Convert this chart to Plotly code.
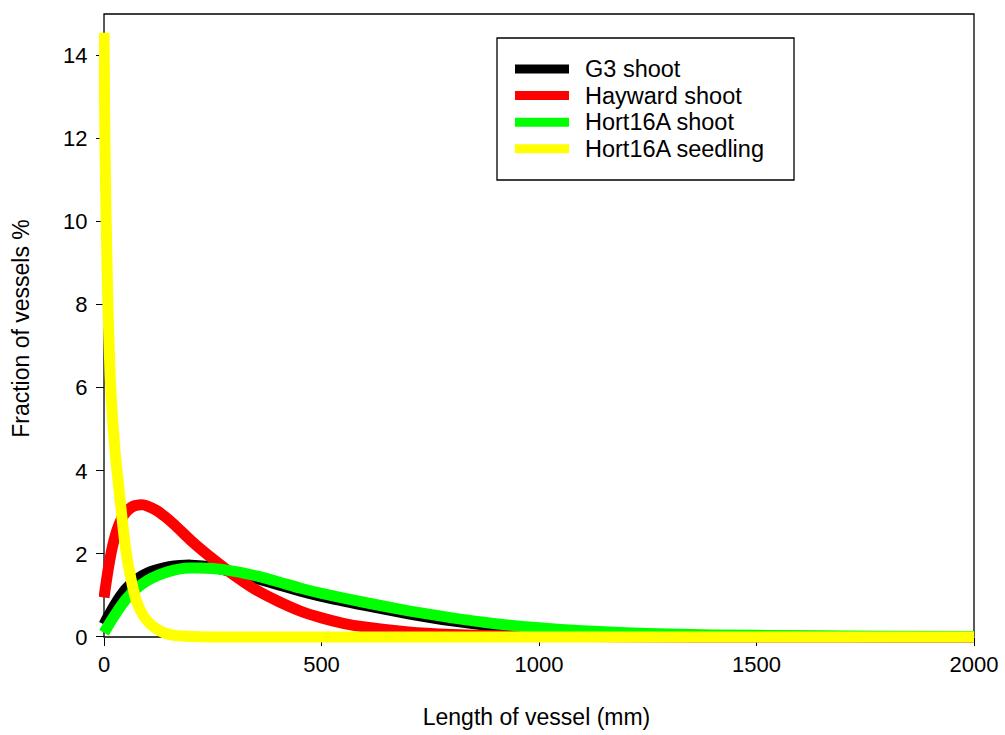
import plotly.graph_objects as go

# Vessel length distributions (length in mm, fraction of vessels in %)
x_g3 = [0, 10, 25, 50, 75, 100, 125, 150, 175, 200, 250, 300, 350, 400, 450, 500,
        600, 700, 800, 900, 1000, 1100, 1200, 1400, 1600, 1800, 2000]
y_g3 = [0.30, 0.50, 0.78, 1.15, 1.39, 1.54, 1.63, 1.69, 1.72, 1.73, 1.68, 1.55, 1.41,
        1.26, 1.11, 0.98, 0.76, 0.56, 0.39, 0.26, 0.17, 0.11, 0.07, 0.03, 0.015, 0.008, 0.005]

x_hayward = [0, 10, 20, 30, 40, 50, 60, 70, 80, 90, 100, 120, 140, 160, 180, 200, 250,
             300, 350, 400, 450, 500, 550, 600, 700, 800, 900, 1000, 1200, 1500, 2000]
y_hayward = [0.95, 1.65, 2.2, 2.58, 2.84, 3.0, 3.1, 3.16, 3.18, 3.18, 3.15, 3.05, 2.9,
             2.72, 2.52, 2.32, 1.88, 1.48, 1.13, 0.86, 0.63, 0.46, 0.33, 0.24, 0.12,
             0.06, 0.03, 0.015, 0.005, 0.0, 0.0]

x_hort_shoot = [0, 10, 25, 50, 75, 100, 125, 150, 175, 200, 250, 300, 350, 400, 450, 500,
                600, 700, 800, 900, 1000, 1100, 1200, 1300, 1400, 1600, 1800, 2000]
y_hort_shoot = [0.10, 0.28, 0.53, 0.90, 1.17, 1.36, 1.49, 1.58, 1.64, 1.66, 1.65, 1.58,
                1.47, 1.33, 1.18, 1.05, 0.83, 0.63, 0.46, 0.32, 0.22, 0.15, 0.10, 0.07,
                0.05, 0.03, 0.02, 0.012]

x_hort_seedling = [0, 2, 5, 9, 14, 20, 26, 32, 40, 50, 62, 75, 90, 105, 120, 140, 170,
                   220, 300, 500, 1000, 1500, 2000]
y_hort_seedling = [14.55, 12.0, 10.0, 8.0, 6.3, 5.2, 4.4, 3.8, 3.0, 2.1, 1.4, 0.85, 0.52,
                   0.33, 0.2, 0.09, 0.03, 0.005, 0.0, 0.0, 0.0, 0.0, 0.0]

series_names = ["G3 shoot", "Hayward shoot", "Hort16A shoot", "Hort16A seedling"]
series_colors = ["#000000", "#FF0000", "#00FF00", "#FFFF00"]
series_x = [x_g3, x_hayward, x_hort_shoot, x_hort_seedling]
series_y = [y_g3, y_hayward, y_hort_shoot, y_hort_seedling]

x_ticks = [0, 500, 1000, 1500, 2000]
y_ticks = [0, 2, 4, 6, 8, 10, 12, 14]

FONT = "Liberation Sans, Arial, sans-serif"
W, H = 1005, 735
M_L, M_R, M_T, M_B = 99, 31, 14, 92

# Axis ranges are padded slightly below 0 so the thick curves are not cut at the axes
X_MIN, X_MAX = -11.5, 2000
Y_MIN, Y_MAX = -0.145, 15
x0_paper = (0 - X_MIN) / (X_MAX - X_MIN)
y0_paper = (0 - Y_MIN) / (Y_MAX - Y_MIN)


def px_to_paper(px, py):
    """Pixel position on the page -> paper coordinates of the plot area."""
    pw = W - M_L - M_R
    ph = H - M_T - M_B
    return (px - M_L) / pw, (H - M_B - py) / ph


fig = go.Figure()
for name, color, xs, ys in zip(series_names, series_colors, series_x, series_y):
    fig.add_trace(go.Scatter(
        x=xs, y=ys, mode="lines", name=name, showlegend=False,
        line=dict(color=color, width=11, shape="spline", smoothing=0.6),
    ))

axis_common = dict(
    showgrid=False, zeroline=False, showline=False, automargin=False,
    ticks="outside", ticklen=8, tickwidth=1.3, tickcolor="#000000",
    tickfont=dict(family=FONT, size=22, color="#000000"),
    anchor="free", layer="below traces",
)

shapes = [dict(type="rect", xref="paper", yref="paper",
               x0=x0_paper, y0=y0_paper, x1=1, y1=1,
               line=dict(color="#000000", width=1.3), layer="below")]
annotations = []

# Legend box with one line sample and label per series
box_l, box_t = px_to_paper(497, 38)
box_r, box_b = px_to_paper(794, 180)
shapes.append(dict(type="rect", xref="paper", yref="paper",
                   x0=box_l, y0=box_b, x1=box_r, y1=box_t,
                   line=dict(color="#000000", width=1.3), fillcolor="#FFFFFF",
                   layer="above"))
row_y0, row_gap = 69, 26.6
for i, (name, color) in enumerate(zip(series_names, series_colors)):
    cy = row_y0 + i * row_gap
    lx0, ly = px_to_paper(515, cy)
    lx1, _ = px_to_paper(569, cy)
    shapes.append(dict(type="line", xref="paper", yref="paper",
                       x0=lx0, y0=ly, x1=lx1, y1=ly,
                       line=dict(color=color, width=9), layer="above"))
    tx, _ = px_to_paper(583, cy)
    annotations.append(dict(xref="paper", yref="paper", x=tx, y=ly,
                            xanchor="left", yanchor="middle", showarrow=False,
                            text=name, font=dict(family=FONT, size=23.5, color="#000000")))

fig.update_layout(
    width=W, height=H,
    margin=dict(l=M_L, r=M_R, t=M_T, b=M_B),
    paper_bgcolor="#FFFFFF", plot_bgcolor="#FFFFFF",
    font=dict(family=FONT, size=22, color="#000000"),
    xaxis=dict(range=[X_MIN, X_MAX], tickvals=x_ticks, position=y0_paper,
               title=dict(text="Length of vessel (mm)", font=dict(size=23), standoff=32),
               **axis_common),
    yaxis=dict(range=[Y_MIN, Y_MAX], tickvals=y_ticks, position=x0_paper,
               ticklabelstandoff=4,
               title=dict(text="Fraction of vessels %", font=dict(size=23), standoff=26),
               **axis_common),
    showlegend=False,
    shapes=shapes,
    annotations=annotations,
)

fig.write_html("out.html")
